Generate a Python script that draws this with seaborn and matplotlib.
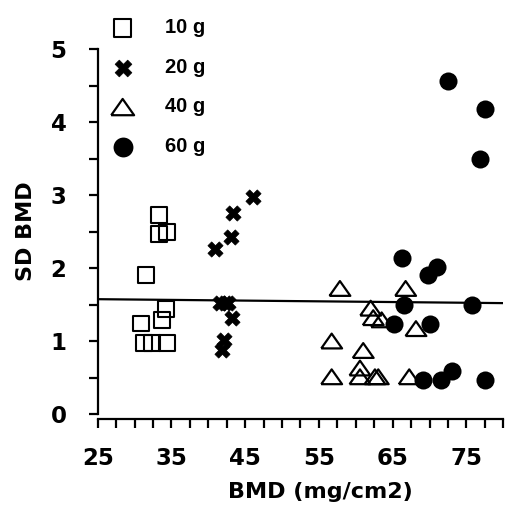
import seaborn as sns
import pandas as pd
import numpy as np
import matplotlib.pyplot as plt
from matplotlib.ticker import MultipleLocator, FixedLocator

# data: BMD (mg/cm2) vs SD BMD, per load group
bmd_10 = [33.35, 33.31, 34.44, 31.51, 34.26, 33.68, 30.83, 31.28, 32.32, 34.36]
sd_10 = [2.73, 2.47, 2.49, 1.90, 1.44, 1.29, 1.24, 0.97, 0.97, 0.97]

bmd_20 = [46.10, 43.31, 43.08, 40.90, 41.58, 42.26, 42.71, 43.17, 42.13, 41.81]
sd_20 = [2.97, 2.76, 2.42, 2.26, 1.52, 1.52, 1.52, 1.32, 1.01, 0.88]

bmd_40 = [57.85, 66.76, 62.02, 62.37, 63.51, 68.16, 56.73, 61.01, 60.57,
          56.73, 60.57, 62.60, 63.05, 67.25]
sd_40 = [1.72, 1.72, 1.45, 1.32, 1.29, 1.17, 1.00, 0.87, 0.63,
         0.51, 0.51, 0.51, 0.51, 0.51]

bmd_60 = [72.54, 77.52, 76.84, 66.22, 71.05, 69.75, 66.57, 75.79, 65.22,
          70.06, 73.00, 69.07, 71.51, 77.52]
sd_60 = [4.56, 4.18, 3.49, 2.14, 2.01, 1.90, 1.49, 1.49, 1.24,
         1.24, 0.59, 0.47, 0.47, 0.47]

groups = ['10 g', '20 g', '40 g', '60 g']
x_ticks = [25, 35, 45, 55, 65, 75]
y_ticks = [0, 1, 2, 3, 4, 5]

df = pd.DataFrame({
    'BMD': bmd_10 + bmd_20 + bmd_40 + bmd_60,
    'SD': sd_10 + sd_20 + sd_40 + sd_60,
    'group': ['10 g'] * len(bmd_10) + ['20 g'] * len(bmd_20)
             + ['40 g'] * len(bmd_40) + ['60 g'] * len(bmd_60),
})

sns.set_style('ticks')
plt.rcParams['font.family'] = ['DejaVu Sans']
plt.rcParams['font.weight'] = 'bold'
for k in ['text.color', 'axes.labelcolor', 'xtick.color', 'ytick.color', 'axes.edgecolor']:
    plt.rcParams[k] = 'black'

fig = plt.figure(figsize=(5.05, 5.08), dpi=100)
ax = fig.add_axes([0.1935, 0.185, 0.803, 0.7185])
ax.set_xlim(25, 80)
ax.set_ylim(0, 5)

# wide, flat open triangle (closed path)
tri = [(-1, -0.71), (1, -0.71), (0, 0.71), (-1, -0.71)]
styles = {
    '10 g': dict(marker='s', s=132, facecolor='none', edgecolor='black', linewidth=1.5),
    '20 g': dict(marker='X', s=120, facecolor='black', edgecolor='black', linewidth=0.5),
    '40 g': dict(marker=tri, s=225, facecolor='none', edgecolor='black', linewidth=1.6),
    '60 g': dict(marker='o', s=169, facecolor='black', edgecolor='black', linewidth=0),
}
for g in groups:
    sub = df[df['group'] == g]
    sns.scatterplot(x='BMD', y='SD', data=sub, ax=ax, label=g, color='black',
                    zorder=3, clip_on=False, **styles[g])

# overall regression line across the full axis
sns.regplot(x='BMD', y='SD', data=df, ax=ax, scatter=False, ci=None,
            truncate=False, color='black', line_kws={'linewidth': 1.6})
ax.set_xlim(25, 80)
ax.set_ylim(0, 5)

sns.despine(ax=ax)
ax.spines['bottom'].set_position(('outward', 3.6))
for sp in ['left', 'bottom']:
    ax.spines[sp].set_linewidth(1.6)
    ax.spines[sp].set_color('black')

ax.xaxis.set_major_locator(FixedLocator(x_ticks))
ax.xaxis.set_minor_locator(MultipleLocator(2.5))
ax.yaxis.set_major_locator(FixedLocator(y_ticks))
ax.yaxis.set_minor_locator(MultipleLocator(0.5))
ax.tick_params(axis='both', which='both', length=6.5, width=1.6, color='black')
ax.tick_params(axis='x', which='major', labelsize=16.5, pad=13.5)
ax.tick_params(axis='y', which='major', labelsize=16.5, pad=16)
for lab in ax.get_xticklabels() + ax.get_yticklabels():
    lab.set_fontweight('bold')

ax.set_xlabel('BMD (mg/cm2)', fontsize=16, fontweight='bold')
ax.set_ylabel('SD BMD', fontsize=16, fontweight='bold')
ax.xaxis.set_label_coords(0.548, -0.186)
ax.yaxis.set_label_coords(-0.152, 0.5)

leg = ax.legend(loc='upper left', bbox_to_anchor=(0.203, 0.964),
                bbox_transform=fig.transFigure, frameon=False, borderpad=0,
                borderaxespad=0, handlelength=2, handletextpad=1.1,
                labelspacing=1.02, scatterpoints=1, markerscale=1.1,
                prop={'family': 'Liberation Sans', 'weight': 'bold', 'size': 14.5})

fig.savefig('out.png', dpi=100)
